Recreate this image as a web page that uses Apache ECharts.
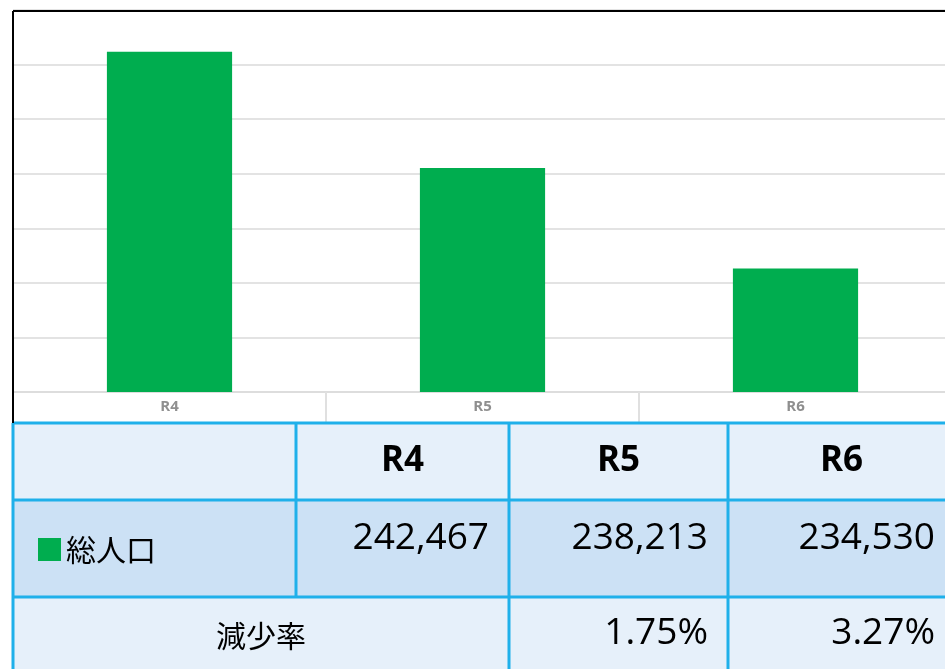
<!DOCTYPE html>
<html>
<head>
<meta charset="utf-8">
<script src="https://cdn.jsdelivr.net/npm/echarts@6/dist/echarts.min.js"></script>
<style>
  html, body { margin: 0; padding: 0; background: #fff; }
  #main { width: 945px; height: 669px; }
</style>
</head>
<body>
<div id="main"></div>
<script>
// データ
const categories = ["R4", "R5", "R6"];
const population = [242467, 238213, 234530];
const declineRates = ["", "1.75%", "3.27%"];
const rowLabel = "総人口";
const rateLabel = "減少率";
const yMin = 230000;
const yMax = 244000;
const yStep = 2000;

const barColor = "#00ad4f";
const lineBlue = "#1fb0ea";
const cellLight = "#e6f0fa";
const cellDark = "#cce1f5";
const numFont = '"Open Sans", "Liberation Sans", sans-serif';
const jpFont = '"Noto Sans CJK JP", sans-serif';

// 表のレイアウト
const colX = [13, 296, 509, 728, 955];
const rowY = [423, 500, 597, 680];

const fmt = (v) => v.toLocaleString("en-US");

let graphics = [];

// 枠線（グラフ上・左）
graphics.push({ type: "line", shape: { x1: 13, y1: 11, x2: 945, y2: 11 }, style: { stroke: "#000", lineWidth: 2 }, z: 10 });
graphics.push({ type: "line", shape: { x1: 13, y1: 11, x2: 13, y2: rowY[0] }, style: { stroke: "#000", lineWidth: 2 }, z: 10 });

// 背景
const rowFill = [cellLight, cellDark, cellLight];
rowFill.forEach((c, r) => {
  graphics.push({
    type: "rect",
    shape: { x: colX[0], y: rowY[r], width: colX[4] - colX[0], height: rowY[r + 1] - rowY[r] },
    style: { fill: c },
    z: 1
  });
});

// 罫線 横
rowY.slice(0, 3).forEach((y) => {
  graphics.push({ type: "line", shape: { x1: colX[0], y1: y, x2: 945, y2: y }, style: { stroke: lineBlue, lineWidth: 3 }, z: 5 });
});
// 罫線 縦
colX.slice(0, 4).forEach((x, i) => {
  const yEnd = i === 1 ? rowY[2] : rowY[3];
  graphics.push({ type: "line", shape: { x1: x, y1: rowY[0], x2: x, y2: yEnd }, style: { stroke: lineBlue, lineWidth: 3 }, z: 5 });
});

// 見出し
categories.forEach((c, i) => {
  graphics.push({
    type: "text",
    style: {
      text: c, x: (colX[i + 1] + colX[i + 2]) / 2, y: (rowY[0] + rowY[1]) / 2,
      align: "center", verticalAlign: "middle",
      font: "bold 35px " + numFont, fill: "#000"
    },
    z: 6
  });
});

// 総人口 行
graphics.push({ type: "rect", shape: { x: 38, y: 538, width: 23, height: 23 }, style: { fill: barColor }, z: 6 });
graphics.push({
  type: "text",
  style: { text: rowLabel, x: 66, y: 550, align: "left", verticalAlign: "middle", font: "30px " + jpFont, fill: "#000" },
  z: 6
});
population.forEach((v, i) => {
  graphics.push({
    type: "text",
    style: {
      text: fmt(v), x: colX[i + 2] - 20, y: 538,
      align: "right", verticalAlign: "middle",
      font: "37px " + numFont, fill: "#000"
    },
    z: 6
  });
});

// 減少率 行
graphics.push({
  type: "text",
  style: { text: rateLabel, x: (colX[0] + colX[2]) / 2, y: 636, align: "center", verticalAlign: "middle", font: "30px " + jpFont, fill: "#000" },
  z: 6
});
declineRates.forEach((v, i) => {
  if (!v) return;
  graphics.push({
    type: "text",
    style: {
      text: v, x: colX[i + 2] - 20, y: 633,
      align: "right", verticalAlign: "middle",
      font: "37px " + numFont, fill: "#000"
    },
    z: 6
  });
});

const myChart = echarts.init(document.getElementById("main"));
const option = {
  animation: false,
  backgroundColor: "#fff",
  grid: { left: 13, top: 10, width: 939, height: 382, outerBoundsMode: "none", containLabel: false },
  xAxis: {
    type: "category",
    data: categories,
    axisLine: { show: true, lineStyle: { color: "#dddddd", width: 2 } },
    axisTick: { show: true, length: 30, lineStyle: { color: "#e0e0e0", width: 2 } },
    axisLabel: { color: "#8f8f8f", fontSize: 15, fontWeight: "bold", fontFamily: numFont, margin: 7 }
  },
  yAxis: {
    type: "value",
    min: yMin,
    max: yMax,
    interval: yStep,
    axisLine: { show: false },
    axisTick: { show: false },
    axisLabel: { show: false },
    splitLine: { show: true, lineStyle: { color: "#e3e3e3", width: 2 } }
  },
  series: [
    {
      name: rowLabel,
      type: "bar",
      data: population,
      barWidth: "40%",
      itemStyle: { color: barColor }
    }
  ],
  graphic: graphics
};
myChart.setOption(option);
</script>
</body>
</html>
